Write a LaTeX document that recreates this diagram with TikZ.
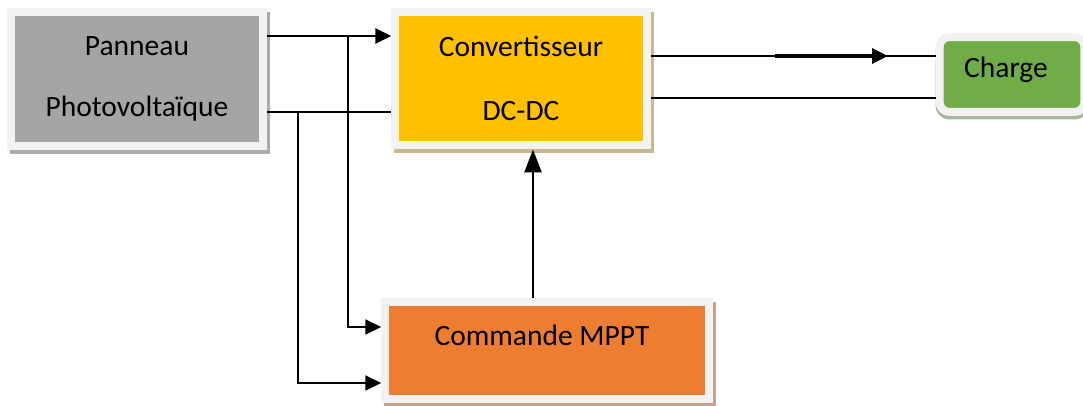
\documentclass[tikz,border=0pt]{standalone}
\usepackage{fontspec}
\setmainfont{Carlito}
\usetikzlibrary{arrows.meta,shadows}

\definecolor{framegray}{HTML}{F2F2F2}
\definecolor{pvgray}{HTML}{A5A5A5}
\definecolor{pvshadow}{HTML}{ABABAB}
\definecolor{convyellow}{HTML}{FFC000}
\definecolor{convshadow}{HTML}{C8B88E}
\definecolor{chargegreen}{HTML}{70AD47}
\definecolor{chargeshadow}{HTML}{A8B59C}
\definecolor{mpptorange}{HTML}{ED7D31}
\definecolor{mpptshadow}{HTML}{C9A28C}

\begin{document}
\begin{tikzpicture}[x=0.02cm, y=-0.02cm,
    font=\fontsize{16.8}{20}\selectfont,
    block/.style={draw=framegray, line width=0.16cm, inner sep=0pt},
    wire/.style={line width=1.1pt},
    arr/.style={wire, -{Triangle[length=0.32cm, width=0.3cm]}}]

% Define frame width
\def\fw{0.16cm}

\useasboundingbox (0,0) rectangle (1083,406);

% ===== Panneau Photovoltaique =====
\node[block, fill=pvgray, minimum width=5.04cm, minimum height=2.68cm,
    align=center, font=\fontsize{16.8}{34.6}\selectfont,
    general shadow={fill=pvshadow, draw=pvshadow, line width=\fw,
        shadow xshift=0.06cm, shadow yshift=-0.08cm}]
    (pv) at (137,79) {Panneau\\Photovoltaïque};

% ===== Convertisseur DC-DC =====
\node[block, fill=convyellow, minimum width=5.03cm, minimum height=2.67cm,
    align=center, font=\fontsize{16.8}{36.4}\selectfont,
    general shadow={fill=convshadow, draw=convshadow, line width=\fw,
        shadow xshift=0.06cm, shadow yshift=-0.08cm}]
    (conv) at (521,78.75) {Convertisseur\\DC-DC};

% ===== Charge =====
\node[block, fill=chargegreen, rounded corners=0.2cm,
    minimum width=2.9cm, minimum height=1.5cm,
    general shadow={fill=chargeshadow, draw=chargeshadow, line width=\fw,
        shadow xshift=0cm, shadow yshift=-0.07cm}]
    (charge) at (1012,74.5) {};
\node (chargetext) at (1006,70) {Charge};

% ===== Commande MPPT =====
\node[block, fill=mpptorange, minimum width=6.47cm, minimum height=1.94cm,
    general shadow={fill=mpptshadow, draw=mpptshadow, line width=\fw,
        shadow xshift=0.06cm, shadow yshift=-0.08cm}]
    (mppt) at (547,350.5) {};
\node (mppttext) at (542,335) {Commande MPPT};

% Junctions and levels
\coordinate (j1) at (348,36);
\coordinate (j2) at (298,112);
\coordinate (in1) at (0,327);
\coordinate (in2) at (0,383);
\coordinate (up) at (533,0);
\coordinate (o1) at (0,56);
\coordinate (o2) at (0,98);
\coordinate (a1) at (775,56);
\coordinate (a2) at (888,56);

% Panneau to convertisseur
\draw[arr, line width=1.5pt] (pv.east |- j1) -- (conv.west |- j1);
\draw[wire] (pv.east |- j2) -- (conv.west |- j2);

% Measures to MPPT
\draw[arr] (j1) |- (mppt.west |- in1);
\draw[arr] (j2) |- (mppt.west |- in2);

% MPPT to convertisseur
\draw[wire, line width=1.5pt, -{Triangle[length=0.46cm, width=0.34cm]}]
    (mppt.north -| up) -- (conv.south -| up);

% Convertisseur to charge
\draw[wire] (conv.east |- o1) -- (charge.west |- o1);
\draw[wire] (conv.east |- o2) -- (charge.west |- o2);
\draw[arr, line width=1.9pt] (a1) -- (a2);

\end{tikzpicture}
\end{document}
